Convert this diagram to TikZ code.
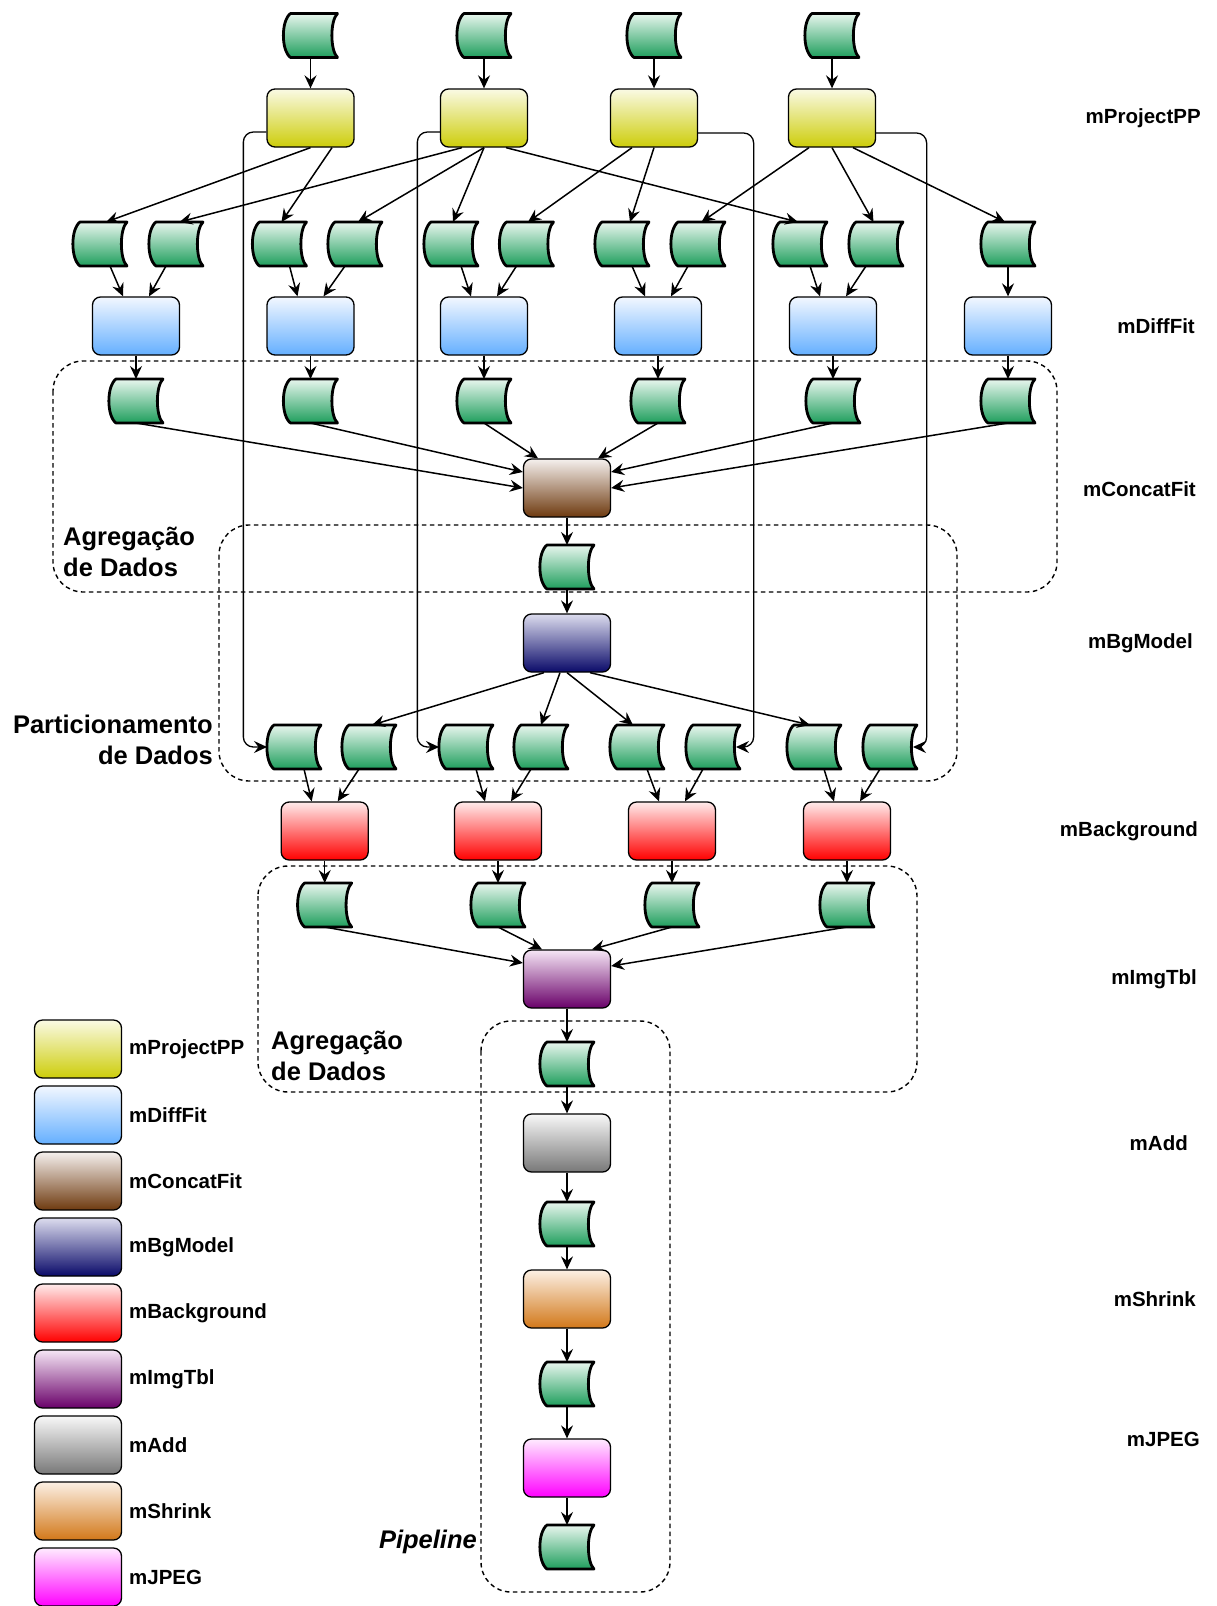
\documentclass[tikz,border=0pt]{standalone}
\usepackage{fontspec}
\setmainfont{Liberation Sans}
\usetikzlibrary{arrows.meta}

% gradient colours of the task boxes and data files
\definecolor{fileTop}{RGB}{232,246,238}
\definecolor{fileBot}{RGB}{30,158,92}
\definecolor{ppTop}{RGB}{250,250,228}
\definecolor{ppBot}{RGB}{205,205,10}
\definecolor{dfTop}{RGB}{242,247,255}
\definecolor{dfBot}{RGB}{100,175,255}
\definecolor{cfTop}{RGB}{245,240,238}
\definecolor{cfBot}{RGB}{110,58,15}
\definecolor{bmTop}{RGB}{220,220,238}
\definecolor{bmBot}{RGB}{10,10,105}
\definecolor{bgTop}{RGB}{255,235,235}
\definecolor{bgBot}{RGB}{255,0,0}
\definecolor{itTop}{RGB}{245,230,245}
\definecolor{itBot}{RGB}{105,0,105}
\definecolor{adTop}{RGB}{248,248,248}
\definecolor{adBot}{RGB}{120,120,120}
\definecolor{shTop}{RGB}{252,240,228}
\definecolor{shBot}{RGB}{210,120,25}
\definecolor{jpTop}{RGB}{255,235,255}
\definecolor{jpBot}{RGB}{255,0,255}

\tikzset{
  taskbox/.style={draw=black, line width=1.3pt, rounded corners=8pt,
    minimum width=87pt, minimum height=58pt, inner sep=0pt},
  tProject/.style={taskbox, top color=ppTop, bottom color=ppBot},
  tDiff/.style={taskbox, top color=dfTop, bottom color=dfBot},
  tConcat/.style={taskbox, top color=cfTop, bottom color=cfBot},
  tBgModel/.style={taskbox, top color=bmTop, bottom color=bmBot},
  tBack/.style={taskbox, top color=bgTop, bottom color=bgBot},
  tImg/.style={taskbox, top color=itTop, bottom color=itBot},
  tAdd/.style={taskbox, top color=adTop, bottom color=adBot},
  tShrink/.style={taskbox, top color=shTop, bottom color=shBot},
  tJpeg/.style={taskbox, top color=jpTop, bottom color=jpBot},
  fileslot/.style={minimum width=54pt, minimum height=44pt, inner sep=0pt, outer sep=0pt},
  filebody/.style={draw=black, line width=2.8pt, line join=round,
    top color=fileTop, bottom color=fileBot},
  arr/.style={line width=1.5pt, -{Stealth[length=13pt,width=12pt,inset=4.5pt]}},
  longarr/.style={arr, line width=1.3pt, rounded corners=10pt},
  region/.style={draw=black, line width=1.4pt, dash pattern=on 4.5pt off 3.5pt,
    rounded corners=30pt},
  regionlabel/.style={font=\bfseries\fontsize{25.5}{31}\selectfont, inner sep=0pt},
  tasklabel/.style={font=\bfseries\fontsize{20.5}{24}\selectfont, inner sep=0pt},
}

% a data file: invisible rectangular slot plus the stored-data outline
\newcommand\datafile[2]{%
  \node[fileslot] (#1) at (#2) {};
  \path[filebody] ([xshift=7pt]#1.north west) -- (#1.north east)
    .. controls ([xshift=-7.5pt,yshift=-7pt]#1.north east) and ([xshift=-7.5pt,yshift=7pt]#1.south east) .. (#1.south east)
    -- ([xshift=7pt]#1.south west)
    .. controls ([xshift=-2.5pt,yshift=7pt]#1.south west) and ([xshift=-2.5pt,yshift=-7pt]#1.north west) .. cycle;}

\begin{document}
\begin{tikzpicture}[x=1pt,y=-1pt]
\fill[white] (0,0) rectangle (1216,1606);
\useasboundingbox (0,0) rectangle (1216,1606);

% grouping regions
\draw[region] (53,361) rectangle (1057,592);
\draw[region] (219,525) rectangle (957,781);
\draw[region] (258,866) rectangle (917,1092);
\draw[region] (481,1021) rectangle (670,1592);

\node[regionlabel, anchor=west, align=left] (lblAgg1) at (63,552) {Agregação\\de Dados};
\node[regionlabel, anchor=east, align=right] (lblPart) at (213,740) {Particionamento\\de Dados};
\node[regionlabel, anchor=west, align=left] (lblAgg2) at (271,1056) {Agregação\\de Dados};
\node[regionlabel, anchor=east, font=\bfseries\itshape\fontsize{25.5}{31}\selectfont] (lblPipe) at (477,1542) {Pipeline};

% input images and mProjectPP
\datafile{in1}{310.5,35.5}
\datafile{in2}{484,35.5}
\datafile{in3}{654,35.5}
\datafile{in4}{832,35.5}
\node[tProject] (pp1) at (310.5,118) {};
\node[tProject] (pp2) at (484,118) {};
\node[tProject] (pp3) at (654,118) {};
\node[tProject] (pp4) at (832,118) {};
\foreach \i in {1,...,4} \draw[arr] (in\i) -- (pp\i);

% projected images
\datafile{f1}{100,244}
\datafile{f2}{176,244}
\datafile{f3}{279.5,244}
\datafile{f4}{355,244}
\datafile{f5}{451,244}
\datafile{f6}{526.5,244}
\datafile{f7}{622,244}
\datafile{f8}{698,244}
\datafile{f9}{800,244}
\datafile{f10}{876,244}
\datafile{f11}{1008,244}

\draw[arr] (pp1.south) -- ([xshift=6pt]f1.north);
\draw[arr] ([xshift=21.5pt]pp1.south) -- ([xshift=2pt]f3.north);
\draw[arr] ([xshift=-22pt]pp2.south) -- ([xshift=3.5pt]f2.north);
\draw[arr] (pp2.south) -- ([xshift=3pt]f4.north);
\draw[arr] (pp2.south) -- ([xshift=2pt]f5.north);
\draw[arr] ([xshift=22pt]pp2.south) -- ([xshift=-2pt]f9.north);
\draw[arr] ([xshift=-22pt]pp3.south) -- ([xshift=1.5pt]f6.north);
\draw[arr] (pp3.south) -- ([xshift=8pt]f7.north);
\draw[arr] ([xshift=-23pt]pp4.south) -- ([xshift=3.5pt]f8.north);
\draw[arr] (pp4.south) -- ([xshift=-2.5pt]f10.north);
\draw[arr] ([xshift=21pt]pp4.south) -- ([xshift=-3pt]f11.north);

% mDiffFit
\node[tDiff] (df1) at (136,326) {};
\node[tDiff] (df2) at (310.5,326) {};
\node[tDiff] (df3) at (484,326) {};
\node[tDiff] (df4) at (658,326) {};
\node[tDiff] (df5) at (833,326) {};
\node[tDiff] (df6) at (1008,326) {};
\foreach \l/\r/\d in {f1/f2/df1, f3/f4/df2, f5/f6/df3, f7/f8/df4, f9/f10/df5} {
  \draw[arr] ([xshift=10pt]\l.south) -- ([xshift=-13pt]\d.north);
  \draw[arr] ([xshift=-10pt]\r.south) -- ([xshift=13pt]\d.north);
}
\draw[arr] (f11) -- (df6);

% fit results
\datafile{g1}{136,401}
\datafile{g2}{310.5,401}
\datafile{g3}{484,401}
\datafile{g4}{658,401}
\datafile{g5}{833,401}
\datafile{g6}{1008,401}
\foreach \i in {1,...,6} \draw[arr] (df\i) -- (g\i);

% mConcatFit
\node[tConcat] (cf) at (567,488) {};
\draw[arr] (g1.south) -- (cf.west);
\draw[arr] (g2.south) -- ([yshift=16pt]cf.west);
\draw[arr] (g3.south) -- ([xshift=-29pt]cf.north);
\draw[arr] (g4.south) -- ([xshift=31pt]cf.north);
\draw[arr] (g5.south) -- ([yshift=16pt]cf.east);
\draw[arr] (g6.south) -- (cf.east);

\datafile{h1}{567,567}
\draw[arr] (cf) -- (h1);

% mBgModel
\node[tBgModel] (bm) at (567,643) {};
\draw[arr] (h1) -- (bm);

% corrections per image
\datafile{p1}{294,747}
\datafile{p2}{369,747}
\datafile{p3}{466,747}
\datafile{p4}{541,747}
\datafile{p5}{637,747}
\datafile{p6}{713,747}
\datafile{p7}{814,747}
\datafile{p8}{890,747}

\draw[arr] ([xshift=-23pt]bm.south) -- ([xshift=3pt]p2.north);
\draw[arr] ([xshift=-7pt]bm.south) -- (p4.north);
\draw[arr] (bm.south) -- ([xshift=-4pt]p5.north);
\draw[arr] ([xshift=23pt]bm.south) -- ([xshift=-4pt]p7.north);

% projected images carried down to mBackground
\draw[longarr] ([yshift=-14pt]pp1.west) -- ++(-23,0) |- (p1.west);
\draw[longarr] ([yshift=-14pt]pp2.west) -- ++(-22.5,0) |- (p3.west);
\draw[longarr] ([yshift=-15pt]pp3.east) -- ++(55.5,0) |- ([xshift=-4pt]p6.east);
\draw[longarr] ([yshift=-15pt]pp4.east) -- ++(50.5,0) |- ([xshift=-4pt]p8.east);

% mBackground
\node[tBack] (b1) at (324.7,831) {};
\node[tBack] (b2) at (498,831) {};
\node[tBack] (b3) at (672,831) {};
\node[tBack] (b4) at (847,831) {};
\foreach \l/\r/\d in {p1/p2/b1, p3/p4/b2, p5/p6/b3, p7/p8/b4} {
  \draw[arr] ([xshift=10pt]\l.south) -- ([xshift=-13pt]\d.north);
  \draw[arr] ([xshift=-10pt]\r.south) -- ([xshift=13pt]\d.north);
}

\datafile{q1}{324.7,905}
\datafile{q2}{498,905}
\datafile{q3}{672,905}
\datafile{q4}{847,905}
\foreach \i in {1,...,4} \draw[arr] (b\i) -- (q\i);

% mImgTbl
\node[tImg] (it) at (567,979) {};
\draw[arr] (q1.south) -- ([yshift=16pt]it.west);
\draw[arr] (q2.south) -- ([xshift=-25pt]it.north);
\draw[arr] (q3.south) -- ([xshift=25pt]it.north);
\draw[arr] (q4.south) -- ([yshift=13pt]it.east);

% pipeline
\datafile{r1}{567,1064}
\node[tAdd] (ad) at (567,1143) {};
\datafile{r2}{567,1224}
\node[tShrink] (sh) at (567,1299) {};
\datafile{r3}{567,1384}
\node[tJpeg] (jp) at (567,1468) {};
\datafile{r4}{567,1547}
\draw[arr] (it) -- (r1);
\draw[arr] (r1) -- (ad);
\draw[arr] (ad) -- (r2);
\draw[arr] (r2) -- (sh);
\draw[arr] (sh) -- (r3);
\draw[arr] (r3) -- (jp);
\draw[arr] (jp) -- (r4);

% task names per level
\node[tasklabel, anchor=east] (nPP) at (1201,118) {mProjectPP};
\node[tasklabel, anchor=east] (nDF) at (1195,326) {mDiffFit};
\node[tasklabel, anchor=east] (nCF) at (1196,489) {mConcatFit};
\node[tasklabel, anchor=east] (nBM) at (1193,643) {mBgModel};
\node[tasklabel, anchor=east] (nBG) at (1198,831) {mBackground};
\node[tasklabel, anchor=east] (nIT) at (1197,979) {mImgTbl};
\node[tasklabel, anchor=east] (nAD) at (1188,1143) {mAdd};
\node[tasklabel, anchor=east] (nSH) at (1196,1299) {mShrink};
\node[tasklabel, anchor=east] (nJP) at (1200,1439) {mJPEG};

% legend
\foreach \k/\s/\t in {0/tProject/mProjectPP, 1/tDiff/mDiffFit, 2/tConcat/mConcatFit,
    3/tBgModel/mBgModel, 4/tBack/mBackground, 5/tImg/mImgTbl, 6/tAdd/mAdd,
    7/tShrink/mShrink, 8/tJpeg/mJPEG} {
  \node[\s] (leg\k) at (78,1049+66*\k) {};
  \node[tasklabel, anchor=west] (legtxt\k) at (129,1049+66*\k) {\t};
}
\end{tikzpicture}
\end{document}
